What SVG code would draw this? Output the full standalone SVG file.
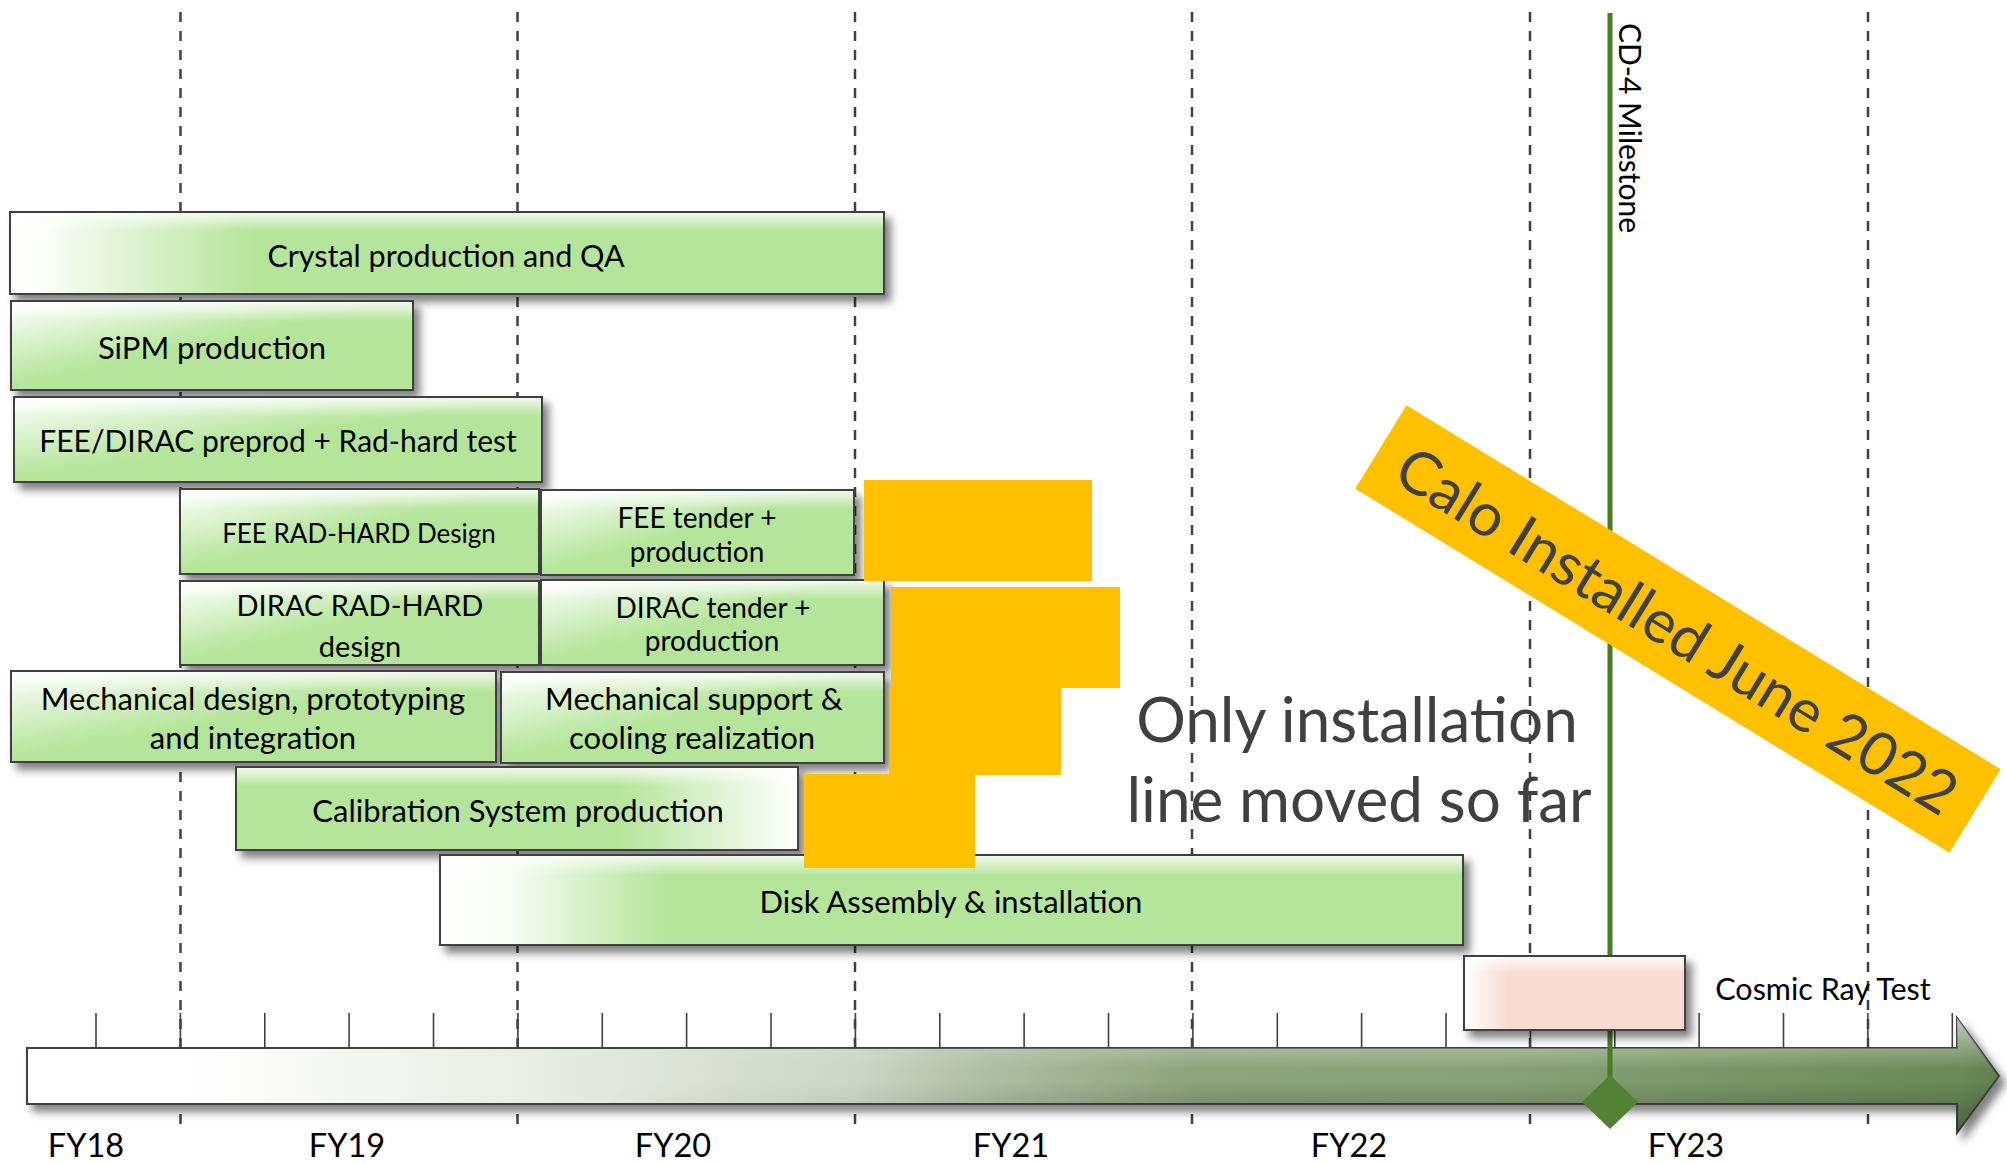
<svg xmlns="http://www.w3.org/2000/svg" width="2007" height="1164" viewBox="0 0 2007 1164">
<defs>
<style>
.box{stroke:#404040;stroke-width:2}
.gl{fill:url(#gloss);stroke:none}
.t{font-family:Lato,"Open Sans","Liberation Sans",sans-serif;fill:#000;text-anchor:middle;dominant-baseline:central;font-size:31px}
.s{font-size:28px}
.dash{stroke:#404040;stroke-width:2.5;stroke-dasharray:10 9;fill:none}
.tick{stroke:#404040;stroke-width:1.6}
.fy{font-family:Lato,"Open Sans","Liberation Sans",sans-serif;font-size:32.5px;text-anchor:middle;fill:#000}
.or{fill:#FFC000}
.big{font-family:Lato,"Open Sans","Liberation Sans",sans-serif;fill:#404040;text-anchor:middle;font-size:62px}
</style>
<filter id="sh" x="-10%" y="-20%" width="130%" height="160%"><feDropShadow dx="6" dy="7" stdDeviation="4" flood-color="#000" flood-opacity="0.5"/></filter>
<linearGradient id="gH" x1="0" y1="0" x2="1" y2="0"><stop offset="0" stop-color="#fff"/><stop offset="0.04" stop-color="#fbfdf9"/><stop offset="0.28" stop-color="#b5e59a"/></linearGradient>
<linearGradient id="gH2" x1="0" y1="0" x2="1" y2="0"><stop offset="0" stop-color="#fff"/><stop offset="0.07" stop-color="#f7fcf4"/><stop offset="0.22" stop-color="#b5e59a"/></linearGradient>
<linearGradient id="gD" x1="0" y1="0" x2="1" y2="1"><stop offset="0" stop-color="#fff"/><stop offset="0.48" stop-color="#b5e59a"/></linearGradient>
<linearGradient id="gR" x1="0" y1="0" x2="1" y2="0"><stop offset="0" stop-color="#b5e59a"/><stop offset="0.68" stop-color="#b5e59a"/><stop offset="1" stop-color="#fff"/></linearGradient>
<linearGradient id="gP" x1="0" y1="0" x2="1" y2="0"><stop offset="0" stop-color="#fff"/><stop offset="0.2" stop-color="#f8dcd3"/></linearGradient>
<linearGradient id="gloss" x1="0" y1="0" x2="0" y2="1"><stop offset="0" stop-color="#fff" stop-opacity="0.8"/><stop offset="0.22" stop-color="#fff" stop-opacity="0"/></linearGradient>
<linearGradient id="gAx" gradientUnits="userSpaceOnUse" x1="27" y1="0" x2="1999" y2="0">
<stop offset="0" stop-color="#fff"/><stop offset="0.078" stop-color="#fff"/><stop offset="0.248" stop-color="#eaeee6"/><stop offset="0.42" stop-color="#cdd6c5"/><stop offset="0.49" stop-color="#aebda2"/><stop offset="0.59" stop-color="#8da47c"/><stop offset="0.745" stop-color="#88a176"/><stop offset="0.98" stop-color="#6a8a57"/><stop offset="1" stop-color="#5f804c"/>
</linearGradient>
<linearGradient id="gAxV" gradientUnits="userSpaceOnUse" x1="0" y1="1018" x2="0" y2="1133">
<stop offset="0" stop-color="#fff" stop-opacity="0.6"/><stop offset="0.45" stop-color="#fff" stop-opacity="0"/><stop offset="0.55" stop-color="#000" stop-opacity="0"/><stop offset="1" stop-color="#000" stop-opacity="0.3"/>
</linearGradient>
<linearGradient id="gMk" gradientUnits="userSpaceOnUse" x1="600" y1="0" x2="1250" y2="0"><stop offset="0" stop-color="#000"/><stop offset="1" stop-color="#fff"/></linearGradient>
<mask id="axMask"><rect x="0" y="1000" width="2007" height="150" fill="url(#gMk)"/></mask>
</defs>
<rect width="2007" height="1164" fill="#fff"/>

<g id="grid">
<line class="dash" x1="180.5" y1="12" x2="180.5" y2="1125"/>
<line class="dash" x1="517.5" y1="12" x2="517.5" y2="1125"/>
<line class="dash" x1="855" y1="12" x2="855" y2="1125"/>
<line class="dash" x1="1192" y1="12" x2="1192" y2="1125"/>
<line class="dash" x1="1530" y1="12" x2="1530" y2="1125"/>
<line class="dash" x1="1868" y1="12" x2="1868" y2="1125"/>
</g>

<g id="timeline">
<g id="ticks">
<line class="tick" x1="96" y1="1013" x2="96" y2="1048"/>
<line class="tick" x1="180.4" y1="1013" x2="180.4" y2="1048"/>
<line class="tick" x1="264.8" y1="1013" x2="264.8" y2="1048"/>
<line class="tick" x1="349.1" y1="1013" x2="349.1" y2="1048"/>
<line class="tick" x1="433.5" y1="1013" x2="433.5" y2="1048"/>
<line class="tick" x1="517.9" y1="1013" x2="517.9" y2="1048"/>
<line class="tick" x1="602.3" y1="1013" x2="602.3" y2="1048"/>
<line class="tick" x1="686.6" y1="1013" x2="686.6" y2="1048"/>
<line class="tick" x1="771" y1="1013" x2="771" y2="1048"/>
<line class="tick" x1="855.4" y1="1013" x2="855.4" y2="1048"/>
<line class="tick" x1="939.8" y1="1013" x2="939.8" y2="1048"/>
<line class="tick" x1="1024.1" y1="1013" x2="1024.1" y2="1048"/>
<line class="tick" x1="1108.5" y1="1013" x2="1108.5" y2="1048"/>
<line class="tick" x1="1192.9" y1="1013" x2="1192.9" y2="1048"/>
<line class="tick" x1="1277.3" y1="1013" x2="1277.3" y2="1048"/>
<line class="tick" x1="1361.6" y1="1013" x2="1361.6" y2="1048"/>
<line class="tick" x1="1446" y1="1013" x2="1446" y2="1048"/>
<line class="tick" x1="1530.4" y1="1013" x2="1530.4" y2="1048"/>
<line class="tick" x1="1614.8" y1="1013" x2="1614.8" y2="1048"/>
<line class="tick" x1="1699.1" y1="1013" x2="1699.1" y2="1048"/>
<line class="tick" x1="1783.5" y1="1013" x2="1783.5" y2="1048"/>
<line class="tick" x1="1867.9" y1="1013" x2="1867.9" y2="1048"/>
<line class="tick" x1="1952.3" y1="1013" x2="1952.3" y2="1048"/>
</g>
<polygon points="27,1048 1957,1048 1957,1018 1999,1076 1957,1133 1957,1104 27,1104" fill="url(#gAx)" stroke="#404040" stroke-width="2" filter="url(#sh)"/>
<polygon points="27,1048 1957,1048 1957,1018 1999,1076 1957,1133 1957,1104 27,1104" fill="url(#gAxV)" mask="url(#axMask)"/>
<text class="fy" x="86" y="1157">FY18</text>
<text class="fy" x="347" y="1157">FY19</text>
<text class="fy" x="673" y="1157">FY20</text>
<text class="fy" x="1011" y="1157">FY21</text>
<text class="fy" x="1349" y="1157">FY22</text>
<text class="fy" x="1686" y="1157">FY23</text>
</g>

<g id="milestone">
<line x1="1610" y1="13" x2="1610" y2="1085" stroke="#4a7c23" stroke-width="5"/>
<polygon points="1610,1075 1638,1102 1610,1129 1582,1102" fill="#548235"/>
<text class="t" style="text-anchor:start;dominant-baseline:alphabetic;font-size:30px" transform="translate(1619,23) rotate(90)">CD-4 Milestone</text>
</g>

<g id="crystal">
<rect class="box" x="10" y="212" width="874" height="82" fill="url(#gH)" filter="url(#sh)"/>
<rect class="gl" x="11" y="213" width="872" height="80"/>
<text class="t" style="font-size:30.5px" x="446" y="255">Crystal production and QA</text>
</g>
<g id="sipm">
<rect class="box" x="11" y="301" width="402" height="89" fill="url(#gD)" filter="url(#sh)"/>
<rect class="gl" x="12" y="302" width="400" height="87"/>
<text class="t" x="212" y="347">SiPM production</text>
</g>
<g id="fee-preprod">
<rect class="box" x="14" y="397" width="528" height="85" fill="url(#gD)" filter="url(#sh)"/>
<rect class="gl" x="15" y="398" width="526" height="83"/>
<text class="t" style="font-size:30px" x="278" y="440">FEE/DIRAC preprod + Rad-hard test</text>
</g>
<g id="fee-radhard">
<rect class="box" x="180" y="489" width="359" height="85" fill="url(#gD)" filter="url(#sh)"/>
<rect class="gl" x="181" y="490" width="357" height="83"/>
<text class="t" style="font-size:26px" x="359" y="533">FEE RAD-HARD Design</text>
</g>
<g id="fee-tender">
<rect class="box" x="541" y="490" width="313" height="85" fill="url(#gD)" filter="url(#sh)"/>
<rect class="gl" x="542" y="491" width="311" height="83"/>
<text class="t s" x="697" y="517">FEE tender +</text>
<text class="t s" x="697" y="551">production</text>
</g>
<g id="dirac-radhard">
<rect class="box" x="180" y="581" width="359" height="84" fill="url(#gD)" filter="url(#sh)"/>
<rect class="gl" x="181" y="582" width="357" height="82"/>
<text class="t" style="font-size:29px" x="360" y="604">DIRAC RAD-HARD</text>
<text class="t" style="font-size:29px" x="360" y="645">design</text>
</g>
<g id="dirac-tender">
<rect class="box" x="541" y="580" width="343" height="85" fill="url(#gD)" filter="url(#sh)"/>
<rect class="gl" x="542" y="581" width="341" height="83"/>
<text class="t s" x="713" y="607">DIRAC tender +</text>
<text class="t s" x="712" y="640">production</text>
</g>
<g id="mech-design">
<rect class="box" x="11" y="671" width="485" height="91" fill="url(#gD)" filter="url(#sh)"/>
<rect class="gl" x="12" y="672" width="483" height="89"/>
<text class="t" x="253" y="698">Mechanical design, prototyping</text>
<text class="t" x="253" y="737">and integration</text>
</g>
<g id="mech-support">
<rect class="box" x="501" y="672" width="383" height="91" fill="url(#gD)" filter="url(#sh)"/>
<rect class="gl" x="502" y="673" width="381" height="89"/>
<text class="t" x="694" y="698">Mechanical support &amp;</text>
<text class="t" x="692" y="737">cooling realization</text>
</g>
<g id="calibration">
<rect class="box" x="236" y="767" width="562" height="83" fill="url(#gR)" filter="url(#sh)"/>
<rect class="gl" x="237" y="768" width="560" height="81"/>
<text class="t" x="518" y="810">Calibration System production</text>
</g>
<g id="disk-assembly">
<rect class="box" x="440" y="855" width="1023" height="90" fill="url(#gH2)" filter="url(#sh)"/>
<rect class="gl" x="441" y="856" width="1021" height="88"/>
<text class="t" x="951" y="901">Disk Assembly &amp; installation</text>
</g>
<g id="cosmic-ray">
<rect class="box" x="1464" y="956" width="221" height="74" fill="url(#gP)" filter="url(#sh)"/>
<rect class="gl" x="1465" y="957" width="219" height="72"/>
<text class="t" style="font-size:30.5px" x="1823" y="988">Cosmic Ray Test</text>
</g>

<g id="delay-blocks">
<rect class="or" x="864" y="480" width="228" height="101"/>
<rect class="or" x="891" y="587" width="229" height="101"/>
<rect class="or" x="889" y="687" width="172" height="88"/>
<rect class="or" x="804" y="774" width="171" height="94"/>
</g>

<g id="note">
<text class="big" x="1357" y="742">Only installation</text>
<text class="big" x="1359" y="822">line moved so far</text>
</g>

<g id="calo-banner" transform="translate(1678,629) rotate(31.5)">
<rect x="-348.5" y="-49" width="697" height="98" fill="#FFC000"/>
<text class="t" style="fill:#404040;font-size:60px" x="0" y="0">Calo Installed June 2022</text>
</g>
</svg>
